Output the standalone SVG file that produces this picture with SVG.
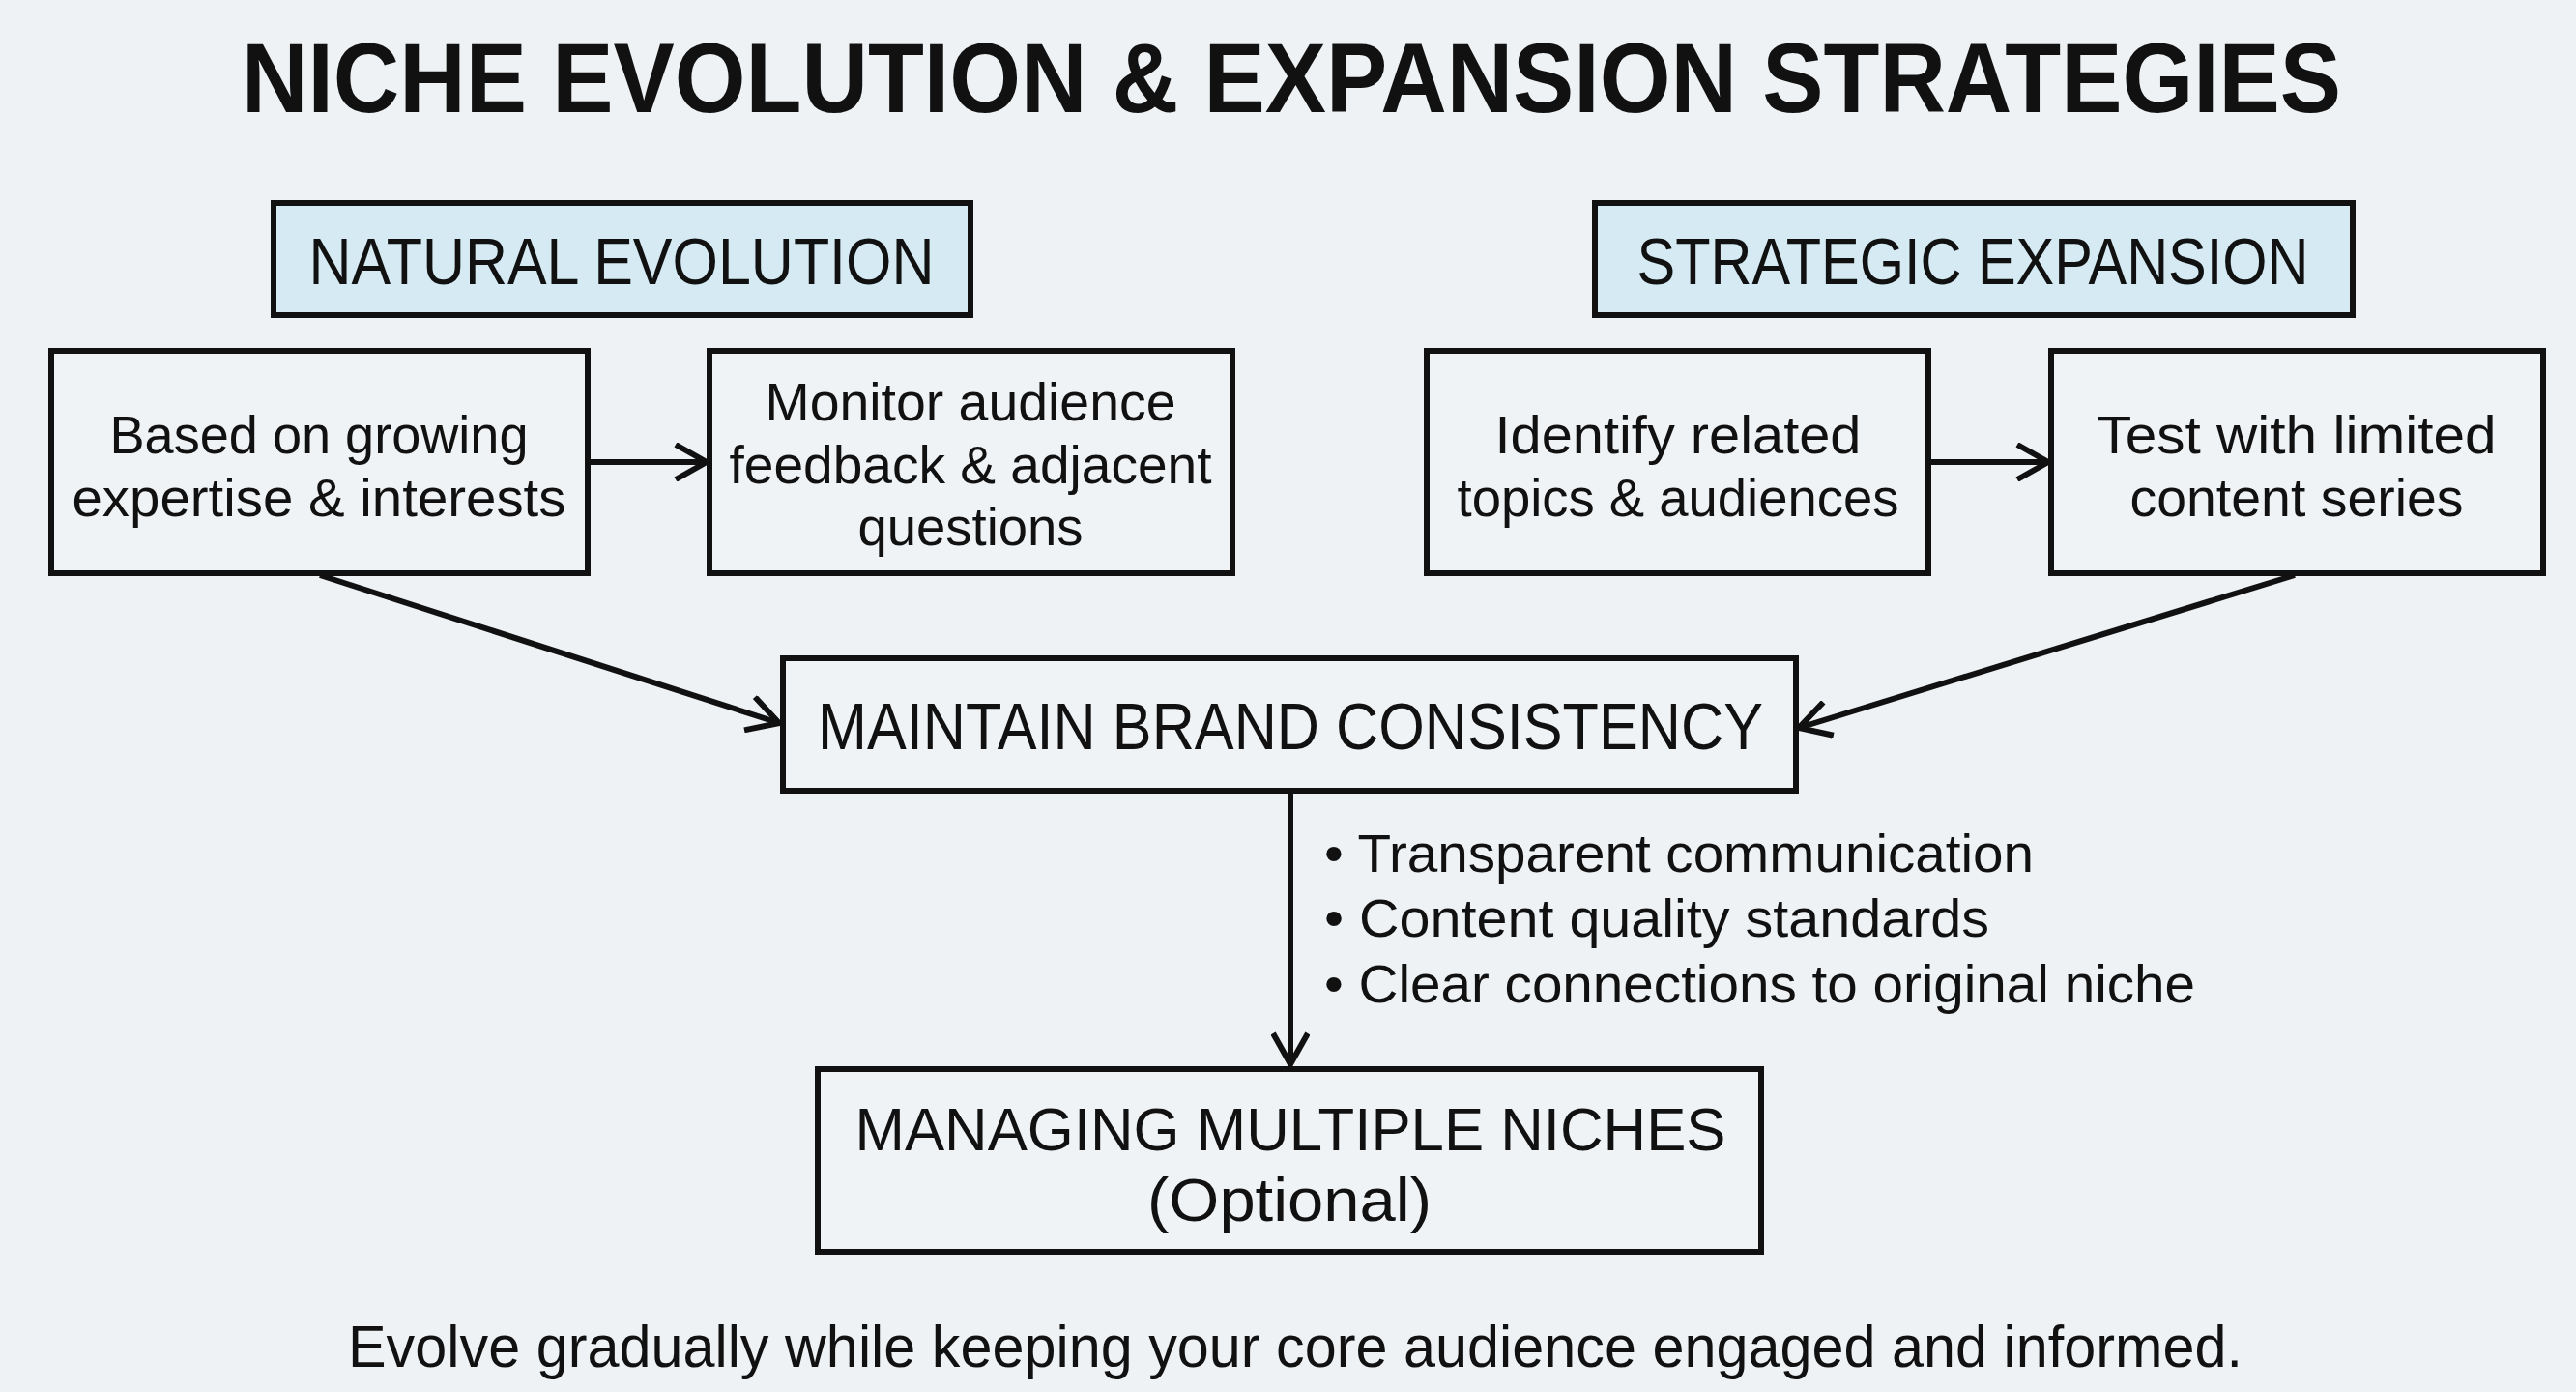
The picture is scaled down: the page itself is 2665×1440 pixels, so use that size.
<svg xmlns="http://www.w3.org/2000/svg" width="2665" height="1440" viewBox="0 0 2665 1440">
<style>
text{font-family:"Liberation Sans",Arial,sans-serif;fill:#111;text-anchor:middle}
.t{font-size:102px;font-weight:700}
.h{font-size:68px}
.b{font-size:56px}
.m{font-size:68px}
.m2{font-size:63px}
.l{font-size:56px;text-anchor:start}
.f{font-size:62px}
.box{fill:#f0f3f5;stroke:#111;stroke-width:6}
.hb{fill:#d5eaf3;stroke:#111;stroke-width:6}
.c{stroke:#111;stroke-width:6;fill:none}
</style>
<defs>
<marker id="ah2" viewBox="0 0 40 40" refX="38" refY="20" markerWidth="40" markerHeight="40" markerUnits="userSpaceOnUse" orient="auto">
<path d="M6,2 L38,20 L6,38" fill="none" stroke="#111" stroke-width="6"/>
</marker>
</defs>
<rect width="2665" height="1440" fill="#eef2f4"/>
<g id="title"><text class="t" x="1336" y="116" textLength="2172" lengthAdjust="spacingAndGlyphs">NICHE EVOLUTION &amp; EXPANSION STRATEGIES</text></g>
<g id="connectors">
<line class="c" x1="608" y1="478" x2="731" y2="478" marker-end="url(#ah2)"/>
<line class="c" x1="1995" y1="478" x2="2119" y2="478" marker-end="url(#ah2)"/>
<line class="c" x1="331" y1="595" x2="806" y2="748" marker-end="url(#ah2)"/>
<line class="c" x1="2374" y1="595" x2="1861" y2="753" marker-end="url(#ah2)"/>
<line class="c" x1="1335" y1="818" x2="1335" y2="1101" marker-end="url(#ah2)"/>
</g>
<g id="natural-evolution"><rect class="hb" x="283" y="210" width="721" height="116"/><text class="h" x="643" y="294" textLength="647" lengthAdjust="spacingAndGlyphs">NATURAL EVOLUTION</text></g>
<g id="strategic-expansion"><rect class="hb" x="1650" y="210" width="784" height="116"/><text class="h" x="2041" y="294" textLength="695" lengthAdjust="spacingAndGlyphs">STRATEGIC EXPANSION</text></g>
<g id="based-on"><rect class="box" x="53" y="363" width="555" height="230"/>
<text class="b" x="330" y="469" textLength="433" lengthAdjust="spacingAndGlyphs">Based on growing</text>
<text class="b" x="330" y="534" textLength="511" lengthAdjust="spacingAndGlyphs">expertise &amp; interests</text></g>
<g id="monitor"><rect class="box" x="734" y="363" width="541" height="230"/>
<text class="b" x="1004" y="435" textLength="425" lengthAdjust="spacingAndGlyphs">Monitor audience</text>
<text class="b" x="1004" y="500" textLength="499" lengthAdjust="spacingAndGlyphs">feedback &amp; adjacent</text>
<text class="b" x="1004" y="564" textLength="233" lengthAdjust="spacingAndGlyphs">questions</text></g>
<g id="identify"><rect class="box" x="1476" y="363" width="519" height="230"/>
<text class="b" x="1736" y="469" textLength="379" lengthAdjust="spacingAndGlyphs">Identify related</text>
<text class="b" x="1736" y="534" textLength="457" lengthAdjust="spacingAndGlyphs">topics &amp; audiences</text></g>
<g id="test"><rect class="box" x="2122" y="363" width="509" height="230"/>
<text class="b" x="2376" y="469" textLength="413" lengthAdjust="spacingAndGlyphs">Test with limited</text>
<text class="b" x="2376" y="534" textLength="345" lengthAdjust="spacingAndGlyphs">content series</text></g>
<g id="maintain"><rect class="box" x="810" y="681" width="1048" height="137"/>
<text class="m" x="1335" y="775" textLength="978" lengthAdjust="spacingAndGlyphs">MAINTAIN BRAND CONSISTENCY</text></g>
<g id="bullets">
<text class="l" x="1370" y="902" textLength="734" lengthAdjust="spacingAndGlyphs">• Transparent communication</text>
<text class="l" x="1370" y="969" textLength="688" lengthAdjust="spacingAndGlyphs">• Content quality standards</text>
<text class="l" x="1370" y="1037" textLength="901" lengthAdjust="spacingAndGlyphs">• Clear connections to original niche</text>
</g>
<g id="managing"><rect class="box" x="846" y="1106" width="976" height="189"/>
<text class="m2" x="1335" y="1190" textLength="901" lengthAdjust="spacingAndGlyphs">MANAGING MULTIPLE NICHES</text>
<text class="m2" x="1334" y="1263" textLength="294" lengthAdjust="spacingAndGlyphs">(Optional)</text></g>
<g id="footer"><text class="f" x="1340" y="1414" textLength="1960" lengthAdjust="spacingAndGlyphs">Evolve gradually while keeping your core audience engaged and informed.</text></g>
</svg>
